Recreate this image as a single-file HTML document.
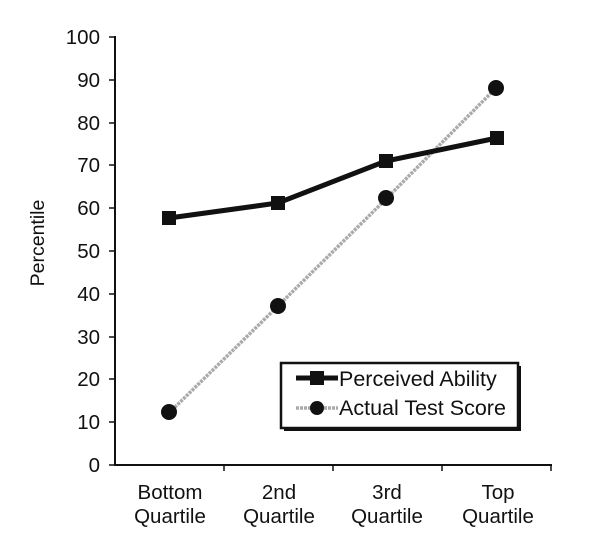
<!DOCTYPE html>
<html><head><style>body{margin:0;background:#fff}</style></head><body>
<svg width="600" height="543" xmlns="http://www.w3.org/2000/svg" font-family="Liberation Sans, Arial, sans-serif">
<rect width="600" height="543" fill="#fff"/>
<g stroke="#111" stroke-width="2">
<line x1="115" y1="36" x2="115" y2="466"/>
<line x1="114" y1="465" x2="552" y2="465"/>
</g>
<g stroke="#111" stroke-width="1.5">
<line x1="109" y1="37" x2="115" y2="37"/><line x1="109" y1="80" x2="115" y2="80"/><line x1="109" y1="123" x2="115" y2="123"/><line x1="109" y1="165" x2="115" y2="165"/><line x1="109" y1="208" x2="115" y2="208"/><line x1="109" y1="251" x2="115" y2="251"/><line x1="109" y1="294" x2="115" y2="294"/><line x1="109" y1="337" x2="115" y2="337"/><line x1="109" y1="379" x2="115" y2="379"/><line x1="109" y1="422" x2="115" y2="422"/><line x1="109" y1="465" x2="115" y2="465"/>
<line x1="224" y1="465" x2="224" y2="471"/><line x1="333" y1="465" x2="333" y2="471"/><line x1="442" y1="465" x2="442" y2="471"/><line x1="551" y1="465" x2="551" y2="471"/>
</g>
<g font-size="20.5" fill="#111" text-anchor="end">
<text x="100" y="44">100</text><text x="100" y="87">90</text><text x="100" y="130">80</text><text x="100" y="172">70</text><text x="100" y="215">60</text><text x="100" y="258">50</text><text x="100" y="301">40</text><text x="100" y="344">30</text><text x="100" y="386">20</text><text x="100" y="429">10</text><text x="100" y="472">0</text>
</g>
<text transform="translate(44,243) rotate(-90)" font-size="19.5" text-anchor="middle" fill="#111">Percentile</text>
<g font-size="20.5" fill="#111" text-anchor="middle">
<text x="170" y="499">Bottom</text><text x="170" y="523">Quartile</text>
<text x="279" y="499">2nd</text><text x="279" y="523">Quartile</text>
<text x="387" y="499">3rd</text><text x="387" y="523">Quartile</text>
<text x="498" y="499">Top</text><text x="498" y="523">Quartile</text>
</g>
<polyline points="169,413 278,306 386,199 497,87" fill="none" stroke="#aaa" stroke-width="3.5" stroke-dasharray="3,1"/>
<polyline points="169,218 278,203 386,161 497,138" fill="none" stroke="#111" stroke-width="5"/>
<g fill="#111">
<rect x="162" y="211" width="14" height="14"/><rect x="271" y="196" width="14" height="14"/><rect x="379" y="154" width="14" height="14"/><rect x="490" y="131" width="14" height="14"/>
<circle cx="169" cy="412" r="8"/><circle cx="278" cy="306" r="8"/><circle cx="386" cy="198" r="8"/><circle cx="496" cy="88" r="8"/>
</g>
<rect x="284" y="366" width="237" height="65" fill="#111"/>
<rect x="281" y="363" width="237" height="65" fill="#fff" stroke="#111" stroke-width="2.5"/>
<line x1="296" y1="378" x2="338" y2="378" stroke="#111" stroke-width="5"/>
<rect x="310" y="371" width="14" height="14" fill="#111"/>
<line x1="296" y1="408" x2="338" y2="408" stroke="#aaa" stroke-width="3.5" stroke-dasharray="3,1"/>
<circle cx="317" cy="408" r="7" fill="#111"/>
<g font-size="21.5" fill="#111"><text x="339" y="386">Perceived Ability</text><text x="339" y="415">Actual Test Score</text></g>
</svg>
</body></html>
